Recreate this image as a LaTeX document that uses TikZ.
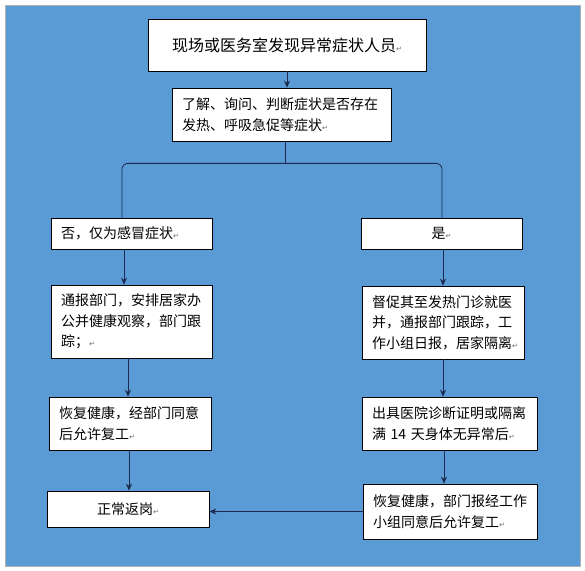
\documentclass[tikz,border=0pt]{standalone}
\usepackage{fontspec}
\setmainfont{Noto Sans CJK SC}
\newfontfamily\retfont{DejaVu Sans}
\usetikzlibrary{arrows.meta}
\definecolor{bgblue}{HTML}{5B9BD5}
\definecolor{linenavy}{HTML}{1B2A4E}
\newcommand\parmk{{\retfont\fontsize{7pt}{7pt}\selectfont\textcolor{gray!80!black}{↵}}}
\begin{document}
\begin{tikzpicture}[x=1pt, y=-1pt, font=\fontsize{14pt}{20.5pt}\selectfont, line join=round, >={Stealth[length=7pt,width=6pt]},
	box/.style={draw=black, fill=white, line width=.7pt, inner xsep=10pt, inner ysep=0pt},
	link/.style={draw=linenavy, line width=.8pt}]
	\useasboundingbox (0,0) rectangle (585,570);
	\draw[fill=bgblue, draw=gray!60] (5,5) rectangle (580,566);
	\node[box, minimum width=278pt, minimum height=52pt, font=\fontsize{16pt}{20pt}\selectfont] (find) at (287,45) {现场或医务室发现异常症状人员\parmk};
	\node[box, minimum width=219pt, minimum height=53pt, text width=199pt, align=left] (check) at (281.5,114.5) {了解、询问、判断症状是否存在\\发热、呼吸急促等症状\parmk};
	\node[box, minimum width=161pt, minimum height=31pt, text width=141pt, align=left] (no) at (131.5,233.5) {否，仅为感冒症状\parmk};
	\node[box, minimum width=161pt, minimum height=31pt, align=center] (yes) at (441.5,233.5) {是\parmk};
	\node[box, minimum width=161pt, minimum height=73pt, text width=141pt, align=left] (home) at (131.5,321.5) {通报部门，安排居家办\\公并健康观察，部门跟\\踪；\parmk};
	\node[box, minimum width=162pt, minimum height=73pt, text width=142pt, align=left] (clinic) at (443,322.5) {督促其至发热门诊就医\\并，通报部门跟踪，工\\作小组日报，居家隔离\parmk};
	\node[box, minimum width=162pt, minimum height=53pt, text width=142pt, align=left] (recover) at (130,423.5) {恢复健康，经部门同意\\后允许复工\parmk};
	\node[box, minimum width=175pt, minimum height=53pt, text width=155pt, align=left] (proof) at (449.5,423.5) {出具医院诊断证明或隔离\\满 14 天身体无异常后\parmk};
	\node[box, minimum width=162pt, minimum height=36pt, align=center] (back) at (128,509) {正常返岗\parmk};
	\node[box, minimum width=174pt, minimum height=55pt, text width=154pt, align=left] (resume) at (450,511.5) {恢复健康，部门报经工作\\小组同意后允许复工\parmk};
	\draw[link, ->] (find.south) -- (find.south |- check.north);
	\draw[link] ([xshift=3.5pt]check.south) -- ++(0pt,-22pt) coordinate (split);
	\draw[link, rounded corners=6pt] ([xshift=-9.5pt]no.north) |- (split) -| ([xshift=.5pt]yes.north);
	\draw[link, ->] ([xshift=-7.5pt]no.south) -- ([xshift=-7.5pt]no.south |- home.north);
	\draw[link, ->] ([xshift=-3.5pt]home.south) -- ([xshift=-3.5pt]home.south |- recover.north);
	\draw[link, ->] ([xshift=-1pt]recover.south) -- ([xshift=-1pt]recover.south |- back.north);
	\draw[link, ->] ([xshift=1.5pt]yes.south) -- ([xshift=1.5pt]yes.south |- clinic.north);
	\draw[link, ->] (clinic.south) -- (clinic.south |- proof.north);
	\draw[link, ->] ([xshift=-5.5pt]proof.south) -- ([xshift=-5.5pt]proof.south |- resume.north);
	\draw[link, ->] (resume.west) -- (back.east |- resume.west);
\end{tikzpicture}
\end{document}
